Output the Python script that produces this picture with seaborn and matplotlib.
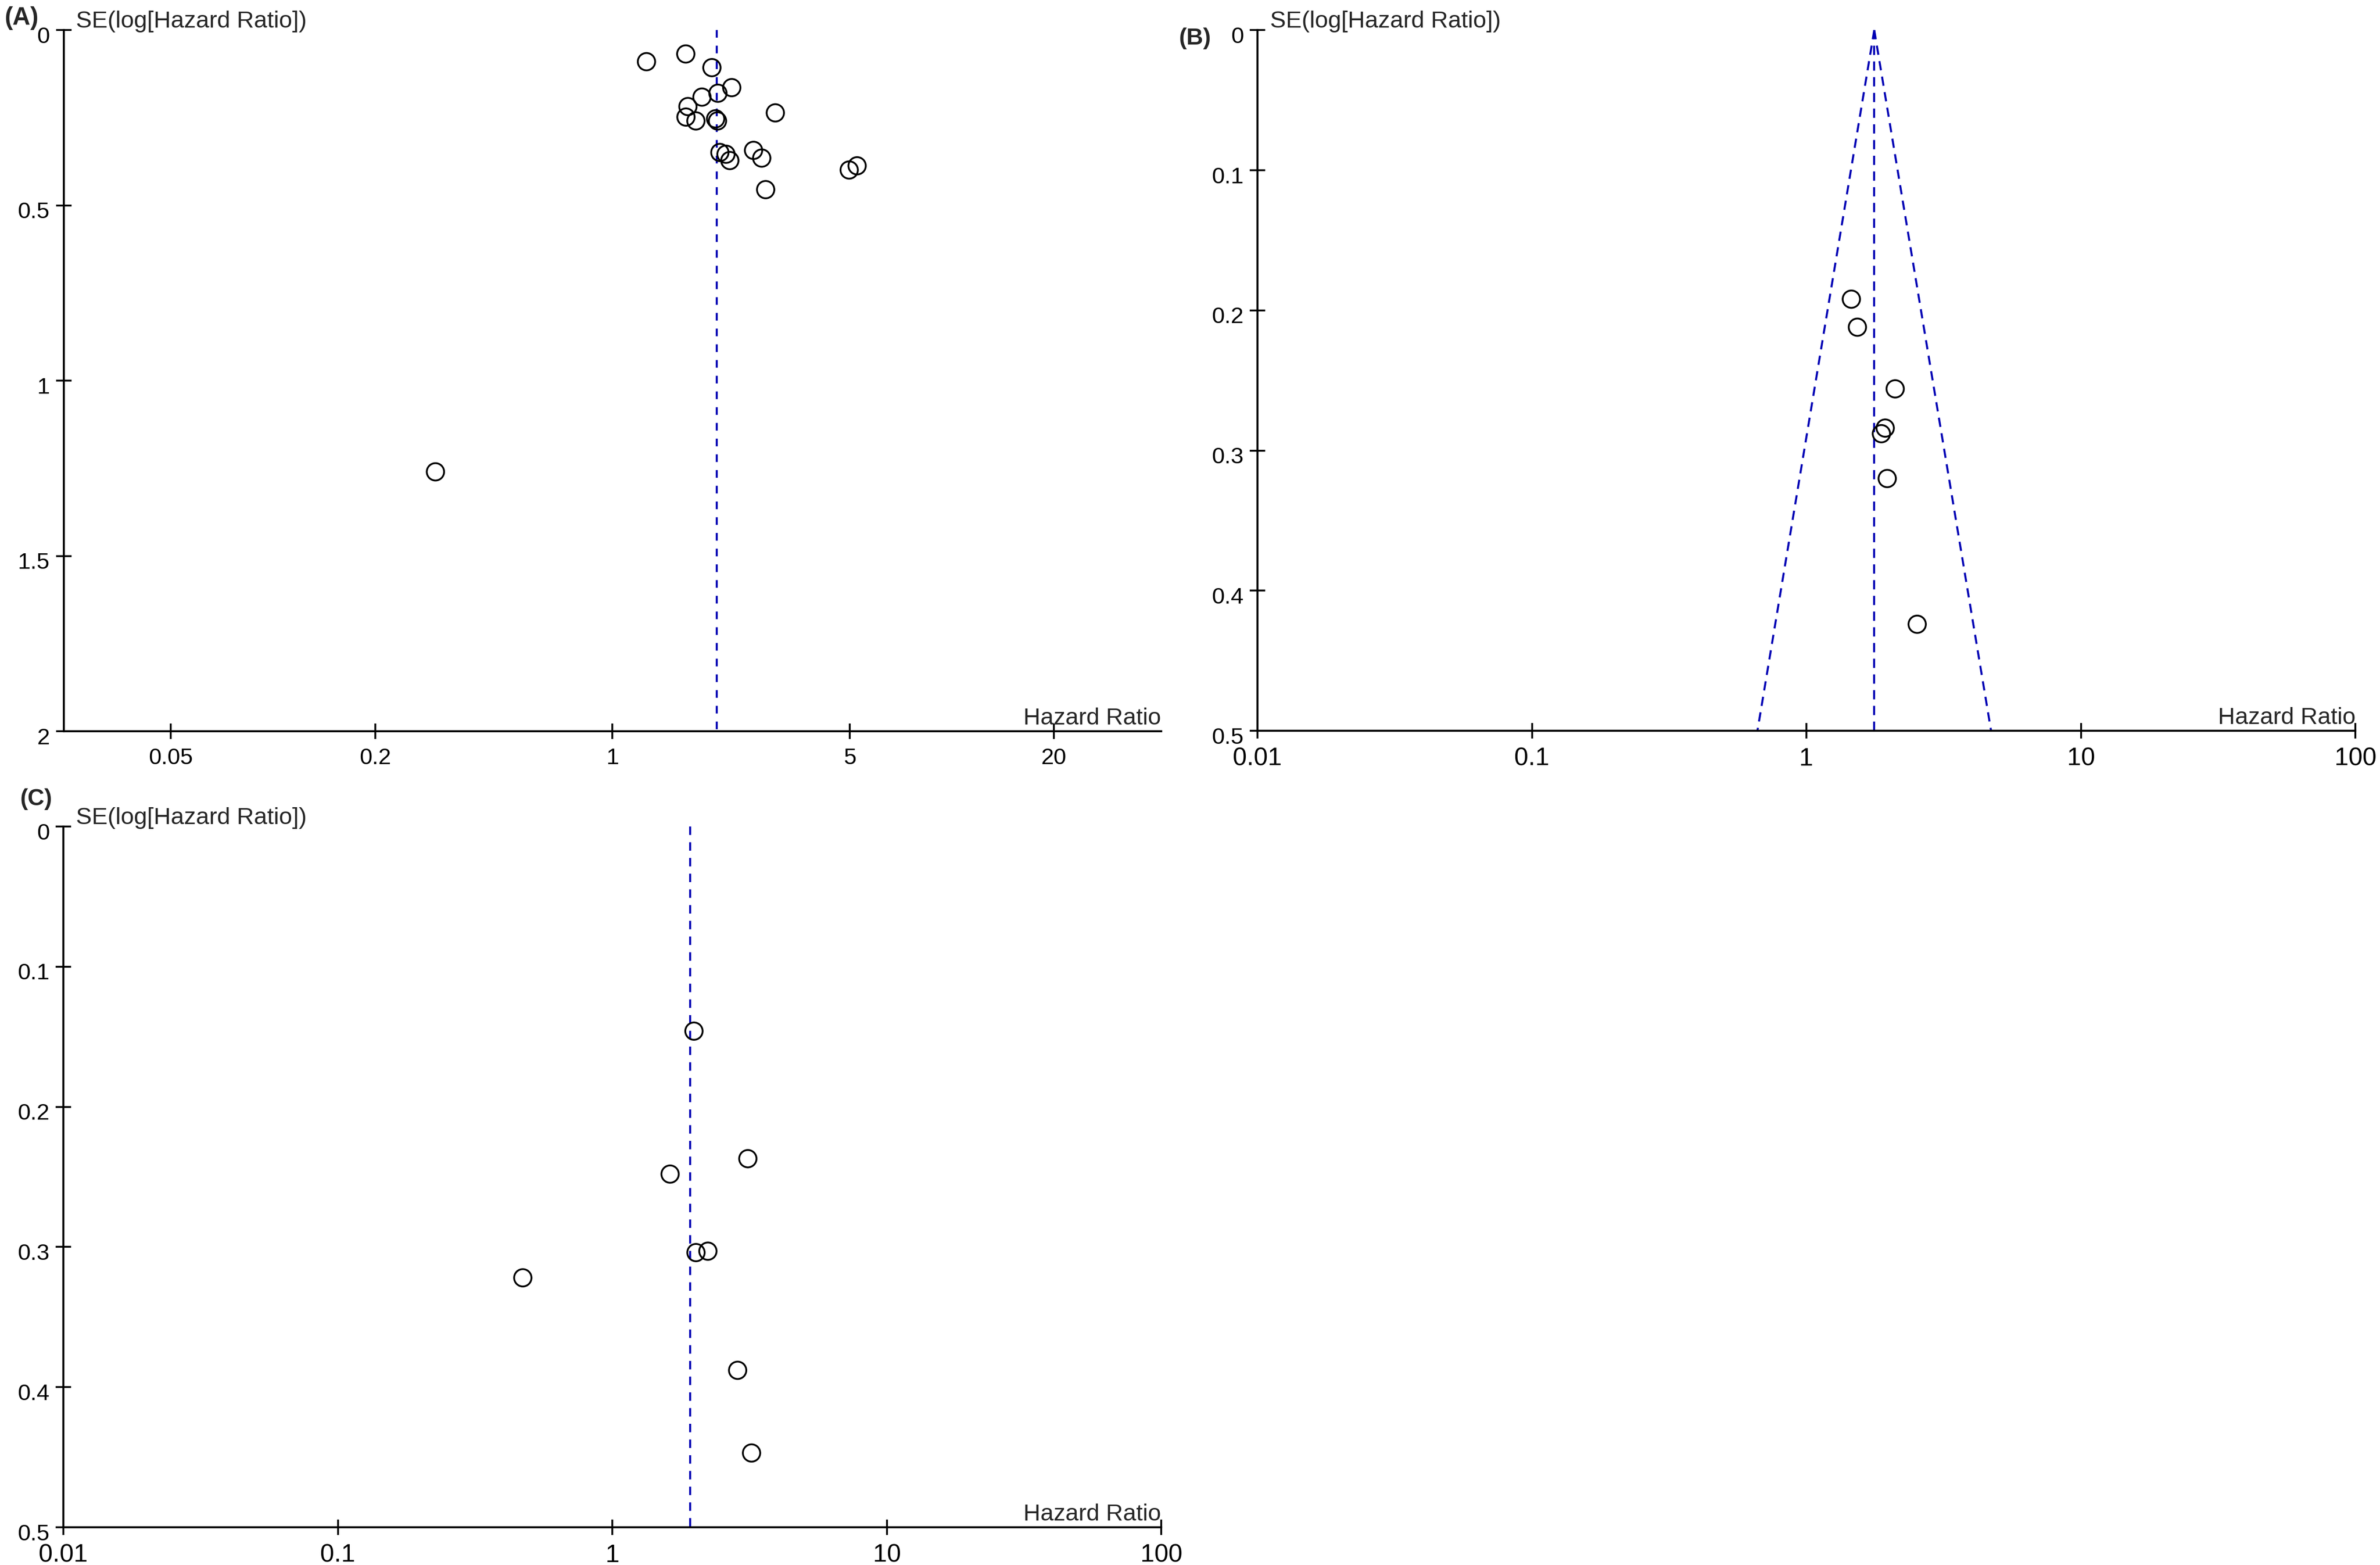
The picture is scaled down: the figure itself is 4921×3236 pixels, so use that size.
import numpy as np
import pandas as pd
import matplotlib
matplotlib.use("Agg")
import matplotlib.pyplot as plt
import matplotlib.transforms as mtransforms
from matplotlib.ticker import NullLocator, FixedLocator, FixedFormatter
import seaborn as sns

# ---------------- data ----------------
# Panel A
a_hr = [1.26, 1.645, 1.964, 2.247, 2.046, 1.836, 1.669, 3.02, 1.647, 1.762,
        2.014, 2.04, 2.073, 2.161, 2.218, 2.605, 2.754, 5.26, 4.985, 2.828, 0.301]
a_se = [0.090, 0.068, 0.107, 0.164, 0.180, 0.191, 0.218, 0.236, 0.248, 0.259,
        0.253, 0.259, 0.349, 0.354, 0.372, 0.343, 0.365, 0.387, 0.399, 0.455, 1.260]
a_pooled = 2.03

# Panel B
b_hr = [1.458, 1.534, 2.106, 1.937, 1.876, 1.970, 2.533]
b_se = [0.192, 0.212, 0.256, 0.284, 0.288, 0.320, 0.424]
b_pooled = 1.767

# Panel C
c_hr = [1.984, 3.118, 1.624, 2.018, 2.230, 0.472, 2.862, 3.216]
c_se = [0.146, 0.237, 0.248, 0.304, 0.303, 0.322, 0.388, 0.447]
c_pooled = 1.92

a_xticks = [0.05, 0.2, 1, 5, 20]
a_xticklabels = ["0.05", "0.2", "1", "5", "20"]
a_yticks = [0, 0.5, 1, 1.5, 2]
a_yticklabels = ["0", "0.5", "1", "1.5", "2"]

bc_xticks = [0.01, 0.1, 1, 10, 100]
bc_xticklabels = ["0.01", "0.1", "1", "10", "100"]
bc_yticks = [0, 0.1, 0.2, 0.3, 0.4, 0.5]
bc_yticklabels = ["0", "0.1", "0.2", "0.3", "0.4", "0.5"]

x_label = "Hazard Ratio"
y_label = "SE(log[Hazard Ratio])"

# ---------------- style ----------------
sns.set_style("white")
plt.rcParams['font.family'] = ['Liberation Sans', 'DejaVu Sans']
plt.rcParams['axes.edgecolor'] = 'black'
plt.rcParams['axes.linewidth'] = 1.0

W, H = 4921, 3236
DPI = 300
fig = plt.figure(figsize=(W / DPI, H / DPI), dpi=DPI)
fig.patch.set_facecolor('white')


def px_rect(left, right, top, bottom):
    return [left / W, (H - bottom) / H, (right - left) / W, (bottom - top) / H]


ax_a = fig.add_axes(px_rect(131.5, 2401, 62.3, 1512))
ax_b = fig.add_axes(px_rect(2600, 4870, 62.3, 1511))
ax_c = fig.add_axes(px_rect(131, 2401, 1709, 3158))

BLUE = '#0000B4'


def setup(ax, hr, se, pooled, xlim, ylim, xticks, xtl, yticks, ytl, xfs,
          funnel=False, dash=(4.0, 4.0)):
    ax.set_xscale('log')
    ax.set_xlim(*xlim)
    ax.set_ylim(ylim, 0)
    df = pd.DataFrame({"hr": hr, "se": se})
    # pooled line
    ax.plot([pooled, pooled], [0, ylim], color=BLUE, lw=1.0, dashes=dash, zorder=2)
    if funnel:
        se_line = np.array([0.0, ylim])
        lo = np.exp(np.log(pooled) - 1.96 * se_line)
        hi = np.exp(np.log(pooled) + 1.96 * se_line)
        ax.plot(lo, se_line, color=BLUE, lw=1.0, dashes=dash, zorder=2)
        ax.plot(hi, se_line, color=BLUE, lw=1.0, dashes=dash, zorder=2)
    sns.scatterplot(data=df, x="hr", y="se", ax=ax, marker='o', s=74,
                    facecolor='none', edgecolor='black', linewidth=0.9,
                    zorder=3, legend=False, clip_on=False)
    ax.xaxis.set_major_locator(FixedLocator(xticks))
    ax.xaxis.set_major_formatter(FixedFormatter(xtl))
    ax.xaxis.set_minor_locator(NullLocator())
    ax.yaxis.set_major_locator(FixedLocator(yticks))
    ax.yaxis.set_major_formatter(FixedFormatter(ytl))
    ax.yaxis.set_minor_locator(NullLocator())
    for s in ['top', 'right']:
        ax.spines[s].set_visible(False)
    for s in ['left', 'bottom']:
        ax.spines[s].set_linewidth(1.0)
        ax.spines[s].set_color('black')
    ax.tick_params(axis='x', direction='inout', length=7.8, width=0.9,
                   pad=4.2, labelsize=xfs, colors='black', bottom=True)
    ax.tick_params(axis='y', direction='inout', length=7.6, width=0.9,
                   pad=3.1, labelsize=11.4, colors='black', left=True)
    off = mtransforms.ScaledTranslation(0, -2.3 / 72, fig.dpi_scale_trans)
    for lab in ax.get_yticklabels():
        lab.set_transform(lab.get_transform() + off)
    ax.set_xlabel("")
    ax.set_ylabel("")
    ax.annotate(x_label, xy=(1, 0), xycoords='axes fraction',
                xytext=(0, 3.4), textcoords='offset points',
                ha='right', va='baseline', fontsize=11.7)
    ax.annotate(y_label, xy=(0, 1), xycoords='axes fraction',
                xytext=(6.2, 1.3), textcoords='offset points',
                ha='left', va='baseline', fontsize=11.8)
    ax.set_facecolor('white')
    ax.grid(False)


setup(ax_a, a_hr, a_se, a_pooled, (10 ** -1.617, 10 ** 1.617), 2,
      a_xticks, a_xticklabels, a_yticks, a_yticklabels, 11.3, dash=(3.8, 4.0))
setup(ax_b, b_hr, b_se, b_pooled, (0.01, 100), 0.5,
      bc_xticks, bc_xticklabels, bc_yticks, bc_yticklabels, 12.5,
      funnel=True, dash=(4.6, 3.2))
setup(ax_c, c_hr, c_se, c_pooled, (0.01, 100), 0.5,
      bc_xticks, bc_xticklabels, bc_yticks, bc_yticklabels, 12.5, dash=(4.2, 3.6))

fig.text(10 / W, 1 - 13 / H, "(A)", fontweight='bold', fontsize=12.2, ha='left', va='top')
fig.text(2438 / W, 1 - 57 / H, "(B)", fontweight='bold', fontsize=11.5, ha='left', va='top')
fig.text(42 / W, 1 - 1630 / H, "(C)", fontweight='bold', fontsize=11.5, ha='left', va='top')

fig.savefig("out.png", dpi=DPI, facecolor='white')
